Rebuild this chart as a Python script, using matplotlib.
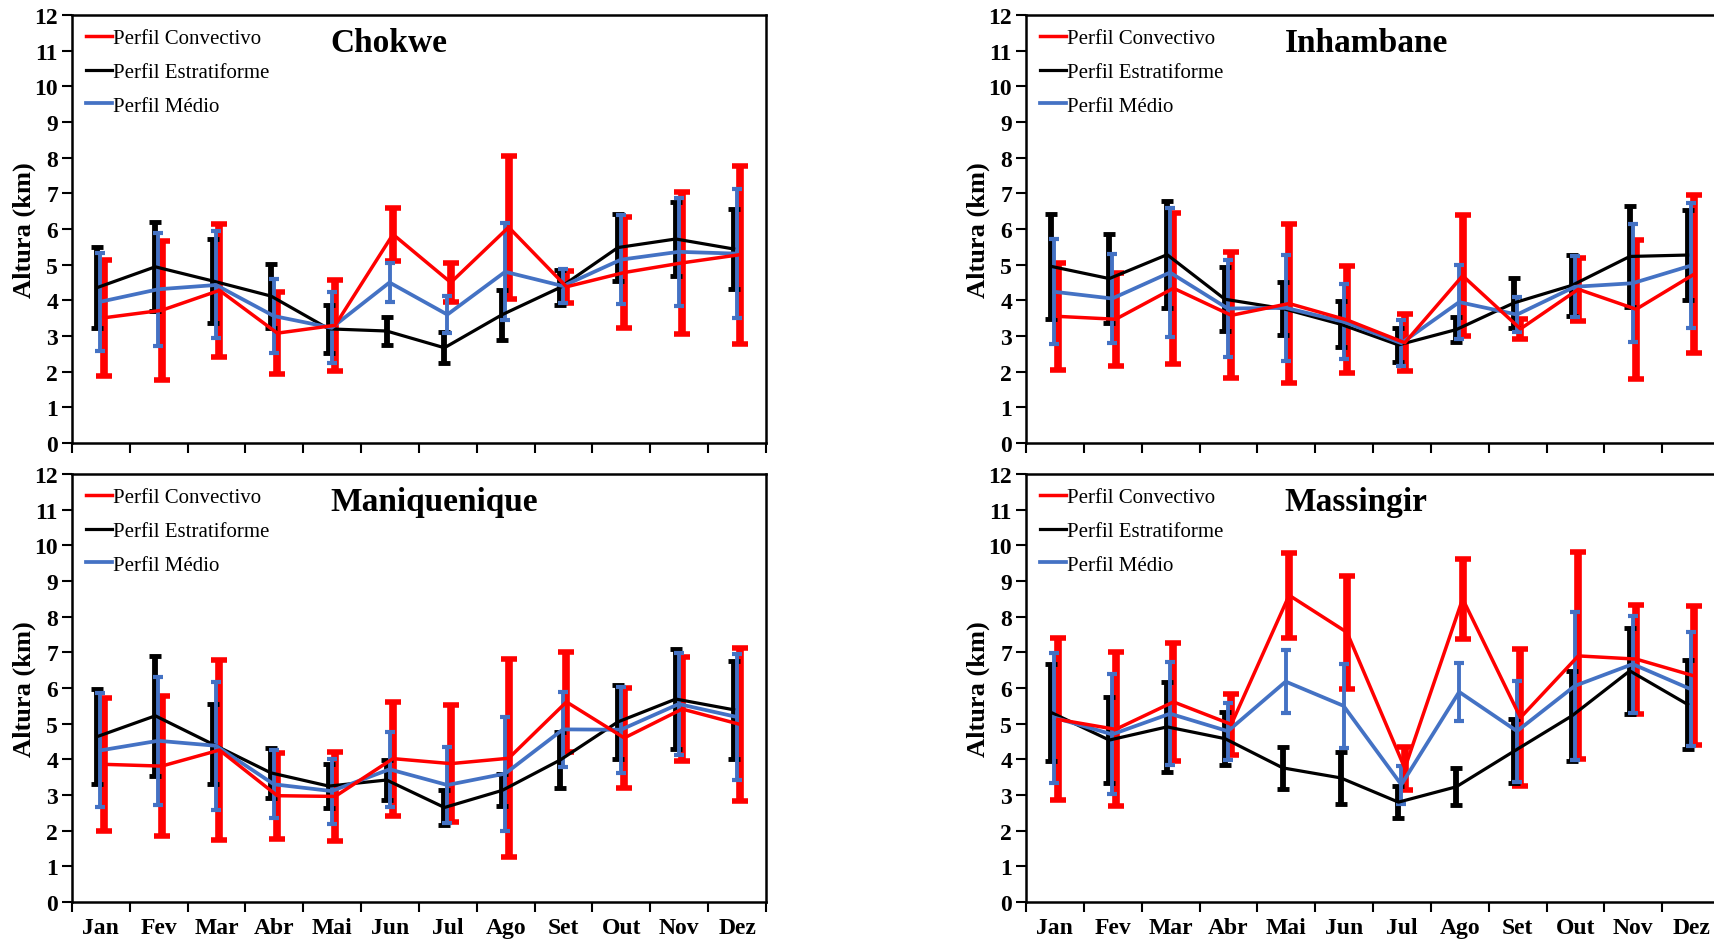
import numpy as np
import matplotlib
matplotlib.use('Agg')
import matplotlib.pyplot as plt

plt.rcParams['font.family'] = ['Liberation Serif', 'DejaVu Serif']

meses = ['Jan', 'Fev', 'Mar', 'Abr', 'Mai', 'Jun', 'Jul', 'Ago', 'Set', 'Out', 'Nov', 'Dez']

### ----- Chokwe ----- ###
chokwe_conv = [3.51, 3.72, 4.28, 3.08, 3.30, 5.85, 4.50, 6.05, 4.38, 4.78, 5.05, 5.28]
chokwe_conv_dp = [1.63, 1.95, 1.87, 1.15, 1.28, 0.75, 0.55, 2.00, 0.45, 1.55, 2.00, 2.50]
chokwe_estr = [4.36, 4.94, 4.54, 4.12, 3.20, 3.14, 2.67, 3.60, 4.36, 5.48, 5.72, 5.44]
chokwe_estr_dp = [1.13, 1.25, 1.17, 0.90, 0.68, 0.40, 0.43, 0.70, 0.50, 0.95, 1.05, 1.13]
chokwe_medio = [3.96, 4.31, 4.43, 3.56, 3.23, 4.50, 3.60, 4.80, 4.40, 5.14, 5.36, 5.31]
chokwe_medio_dp = [1.37, 1.59, 1.50, 1.04, 1.00, 0.56, 0.52, 1.36, 0.47, 1.25, 1.52, 1.80]

### ----- Inhambane ----- ###
inhambane_conv = [3.55, 3.47, 4.34, 3.58, 3.91, 3.45, 2.81, 4.69, 3.20, 4.31, 3.75, 4.73]
inhambane_conv_dp = [1.50, 1.30, 2.12, 1.77, 2.23, 1.50, 0.80, 1.70, 0.28, 0.88, 1.95, 2.22]
inhambane_estr = [4.95, 4.61, 5.28, 4.03, 3.77, 3.33, 2.75, 3.18, 3.93, 4.42, 5.23, 5.27]
inhambane_estr_dp = [1.48, 1.24, 1.50, 0.90, 0.75, 0.64, 0.47, 0.35, 0.70, 0.85, 1.41, 1.25]
inhambane_medio = [4.24, 4.05, 4.78, 3.77, 3.79, 3.40, 2.80, 3.95, 3.60, 4.38, 4.48, 4.97]
inhambane_medio_dp = [1.47, 1.26, 1.80, 1.35, 1.48, 1.05, 0.65, 1.03, 0.50, 0.85, 1.66, 1.75]

### ----- Maniquenique ----- ###
maniq_conv = [3.86, 3.81, 4.26, 2.98, 2.96, 4.02, 3.88, 4.03, 5.61, 4.60, 5.41, 4.98]
maniq_conv_dp = [1.86, 1.97, 2.52, 1.20, 1.25, 1.60, 1.63, 2.78, 1.40, 1.40, 1.45, 2.14]
maniq_estr = [4.64, 5.22, 4.42, 3.62, 3.25, 3.42, 2.65, 3.13, 3.98, 5.05, 5.69, 5.39]
maniq_estr_dp = [1.32, 1.68, 1.12, 0.70, 0.62, 0.55, 0.50, 0.45, 0.78, 1.04, 1.40, 1.38]
maniq_medio = [4.25, 4.52, 4.38, 3.30, 3.11, 3.72, 3.28, 3.60, 4.84, 4.83, 5.55, 5.19]
maniq_medio_dp = [1.60, 1.80, 1.80, 0.95, 0.91, 1.06, 1.06, 1.60, 1.06, 1.20, 1.42, 1.76]

### ----- Massingir ----- ###
massingir_conv = [5.12, 4.84, 5.61, 4.98, 8.60, 7.56, 3.75, 8.50, 5.17, 6.90, 6.81, 6.34]
massingir_conv_dp = [2.27, 2.16, 1.65, 0.85, 1.19, 1.58, 0.60, 1.12, 1.93, 2.90, 1.53, 1.95]
massingir_estr = [5.31, 4.54, 4.91, 4.58, 3.76, 3.48, 2.80, 3.23, 4.23, 5.22, 6.48, 5.54]
massingir_estr_dp = [1.35, 1.20, 1.27, 0.75, 0.58, 0.73, 0.45, 0.52, 0.90, 1.27, 1.21, 1.24]
massingir_medio = [5.17, 4.70, 5.28, 4.79, 6.18, 5.50, 3.29, 5.89, 4.79, 6.06, 6.67, 5.97]
massingir_medio_dp = [1.82, 1.68, 1.45, 0.80, 0.89, 1.17, 0.53, 0.82, 1.42, 2.08, 1.36, 1.60]

vermelho = '#FF0000'
preto = '#000000'
azul = '#4472C4'


def painel(ax, titulo, conv, conv_dp, estr, estr_dp, medio, medio_dp, mostra_meses):
    x = np.arange(len(meses))
    # error bars first (red, black, blue), then the lines
    ax.errorbar(x + 0.05, conv, yerr=conv_dp, fmt='none', ecolor=vermelho,
                elinewidth=5.5, capsize=6, capthick=4)
    ax.errorbar(x - 0.06, estr, yerr=estr_dp, fmt='none', ecolor=preto,
                elinewidth=4.2, capsize=4.5, capthick=3.5)
    ax.errorbar(x - 0.01, medio, yerr=medio_dp, fmt='none', ecolor=azul,
                elinewidth=2.8, capsize=3.8, capthick=3)
    l2, = ax.plot(x - 0.06, estr, color=preto, lw=2.3, label='Perfil Estratiforme')
    l3, = ax.plot(x - 0.01, medio, color=azul, lw=2.7, label='Perfil Médio')
    l1, = ax.plot(x + 0.05, conv, color=vermelho, lw=2.5, label='Perfil Convectivo')

    ax.set_xlim(-0.5, 11.5)
    ax.set_ylim(0, 12)
    ax.set_yticks(range(0, 13))
    ax.set_xticks(np.arange(-0.5, 12, 1))
    ax.set_xticklabels([])
    ax.set_xticks(x, minor=True)
    if mostra_meses:
        ax.set_xticklabels(meses, minor=True, fontsize=17, fontweight='bold')
    ax.tick_params(axis='x', which='minor', length=0, pad=11)
    ax.tick_params(axis='x', which='major', length=7, width=1.5, direction='out')
    ax.tick_params(axis='y', length=7, width=1.5, direction='out', labelsize=17, pad=3)
    for t in ax.get_yticklabels():
        t.set_fontweight('bold')
    for s in ax.spines.values():
        s.set_linewidth(1.8)
    ax.set_ylabel('Altura (km)', fontsize=19, fontweight='bold', labelpad=-1)

    ax.text(0.373, 0.935, titulo, transform=ax.transAxes, ha='left', va='center',
            fontsize=24, fontweight='bold')
    ax.legend(handles=[l1, l2, l3], loc='upper left', frameon=False, fontsize=15,
              handlelength=1.25, handletextpad=0.05, labelspacing=0.68,
              bbox_to_anchor=(0.0, 1.0), borderaxespad=0.25)


fig = plt.figure(figsize=(17.15, 9.45), dpi=100)
W, H = 1715.0, 945.0
ax1 = fig.add_axes([72 / W, 1 - 444 / H, 694 / W, 428 / H])
ax2 = fig.add_axes([1026 / W, 1 - 444 / H, 694 / W, 428 / H])
ax3 = fig.add_axes([72 / W, 1 - 903 / H, 694 / W, 428 / H])
ax4 = fig.add_axes([1026 / W, 1 - 903 / H, 694 / W, 428 / H])

painel(ax1, 'Chokwe', chokwe_conv, chokwe_conv_dp, chokwe_estr, chokwe_estr_dp,
       chokwe_medio, chokwe_medio_dp, False)
painel(ax2, 'Inhambane', inhambane_conv, inhambane_conv_dp, inhambane_estr,
       inhambane_estr_dp, inhambane_medio, inhambane_medio_dp, False)
painel(ax3, 'Maniquenique', maniq_conv, maniq_conv_dp, maniq_estr, maniq_estr_dp,
       maniq_medio, maniq_medio_dp, True)
painel(ax4, 'Massingir', massingir_conv, massingir_conv_dp, massingir_estr,
       massingir_estr_dp, massingir_medio, massingir_medio_dp, True)

fig.savefig('out.png', dpi=100)
